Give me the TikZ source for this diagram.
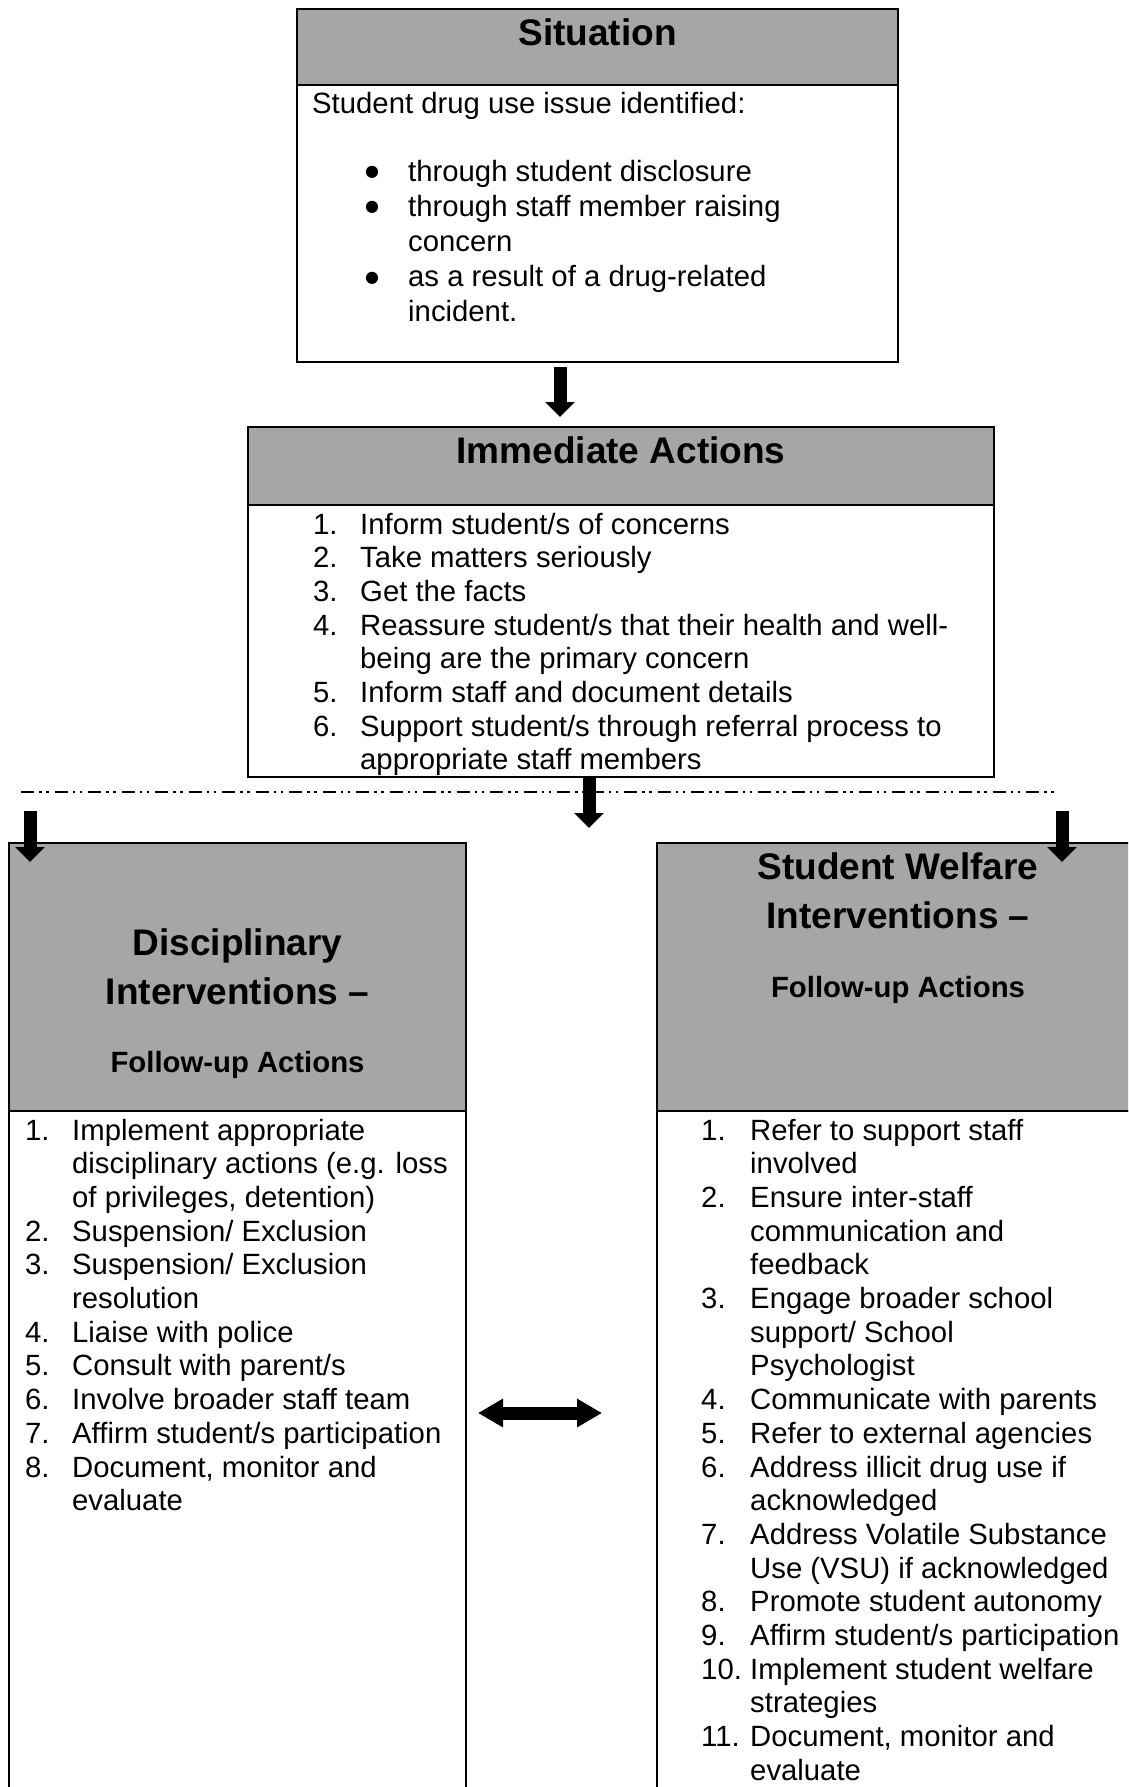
\documentclass[tikz,border=0pt]{standalone}
\usepackage{fontspec}
\setmainfont{Liberation Sans}
\newfontfamily\dejavufont{DejaVu Sans}
\usetikzlibrary{arrows.meta}
\definecolor{hdrgray}{HTML}{A6A6A6}
\begin{document}
\begin{tikzpicture}[x=1pt,y=-1pt,
  box/.style={draw=black, line width=1.8pt, inner sep=0pt, outer sep=0pt, anchor=north west},
  hdr/.style={box, fill=hdrgray},
  txt/.style={font=\fontsize{29.3}{33.7}\selectfont, anchor=base west, inner sep=0pt},
  bul/.style={font=\dejavufont\fontsize{16}{18}\selectfont, anchor=base west, inner sep=0pt},
  ttl/.style={font=\fontsize{37}{49}\selectfont\bfseries, anchor=base, inner sep=0pt},
  sub/.style={font=\fontsize{29.3}{33.7}\selectfont\bfseries, anchor=base, inner sep=0pt},
  blockarrow/.style={line width=13pt, -{Triangle[width=29pt,length=15pt]}},
  dblarrow/.style={line width=13pt, {Triangle[width=27pt,length=25pt]}-{Triangle[width=27pt,length=25pt]}},
  sepline/.style={line width=1.5pt, dash pattern=on 13pt off 5pt on 2.5pt off 4.5pt on 2.5pt off 6pt}
]
\clip (0,0) rectangle (1128,1787);
\fill[white] (0,0) rectangle (1128,1787);

% ---------- Situation ----------
\node[hdr, minimum width=601pt, minimum height=76pt] (sith) at (297,9) {};
\node[box, minimum width=601pt, minimum height=277pt] (sitb) at (297,85) {};
\node[ttl] (sitt) at (597.5,46) {Situation};
\node[txt] (s0) at (312,114) {Student drug use issue identified:};
\node[bul] (sb1) at (365,177) {●};
\node[txt] (s1) at (408,182) {through student disclosure};
\node[bul] (sb2) at (365,212) {●};
\node[txt] (s2) at (408,217) {through staff member raising};
\node[txt] (s3) at (408,251.5) {concern};
\node[bul] (sb3) at (365,282) {●};
\node[txt] (s4) at (408,287) {as a result of a drug-related};
\node[txt] (s5) at (408,321) {incident.};

% ---------- Immediate Actions ----------
\node[hdr, minimum width=746pt, minimum height=78pt] (imh) at (248,427) {};
\node[box, minimum width=746pt, minimum height=272pt] (imb) at (248,505) {};
\node[ttl] (imt) at (621,463) {Immediate Actions};
\node[txt] (in1) at (313,534) {1.};
\node[txt] (i1) at (360,534) {Inform student/s of concerns};
\node[txt] (in2) at (313,567.7) {2.};
\node[txt] (i2) at (360,567.7) {Take matters seriously};
\node[txt] (in3) at (313,601.4) {3.};
\node[txt] (i3) at (360,601.4) {Get the facts};
\node[txt] (in4) at (313,635.1) {4.};
\node[txt] (i4) at (360,635.1) {Reassure student/s that their health and well-};
\node[txt] (i4b) at (360,668.8) {being are the primary concern};
\node[txt] (in5) at (313,702.5) {5.};
\node[txt] (i5) at (360,702.5) {Inform staff and document details};
\node[txt] (in6) at (313,736.2) {6.};
\node[txt] (i6) at (360,736.2) {Support student/s through referral process to};
\node[txt] (i6b) at (360,769.9) {appropriate staff members};

% ---------- Disciplinary ----------
\node[hdr, minimum width=457pt, minimum height=268pt] (dch) at (9,843) {};
\node[box, minimum width=457pt, minimum height=700pt] (dcb) at (9,1111) {};
\node[ttl] (dt1) at (237.5,955) {Disciplinary};
\node[ttl] (dt2) at (237.5,1004) {Interventions --};
\node[sub] (dt3) at (237.5,1072) {Follow-up Actions};
\foreach \n/\t/\k in {1./Implement appropriate/0, /disciplinary actions (e.g. loss/1, /of privileges{,} detention)/2,
  2./Suspension\slash\ Exclusion/3, 3./Suspension\slash\ Exclusion/4, /resolution/5,
  4./Liaise with police/6, 5./Consult with parent\slash s/7, 6./Involve broader staff team/8,
  7./Affirm student\slash s participation/9, 8./{Document, monitor and}/10, /evaluate/11}{
  \node[txt] (dn\k) at (25,1140+33.7*\k) {\n};
  \node[txt] (d\k) at (72,1140+33.7*\k) {\t};
}

% ---------- Student Welfare ----------
\node[hdr, minimum width=490pt, minimum height=268pt] (swh) at (657,843) {};
\node[box, minimum width=490pt, minimum height=700pt] (swb) at (657,1111) {};
\node[ttl] (wt1) at (898,879) {Student Welfare};
\node[ttl] (wt2) at (898,928) {Interventions --};
\node[sub] (wt3) at (898,997) {Follow-up Actions};
\foreach \n/\t/\k in {1./Refer to support staff/0, /involved/1, 2./Ensure inter-staff/2,
  /communication and/3, /feedback/4, 3./Engage broader school/5, /support\slash\ School/6,
  /Psychologist/7, 4./Communicate with parents/8, 5./Refer to external agencies/9,
  6./Address illicit drug use if/10, /acknowledged/11, 7./Address Volatile Substance/12,
  /Use (VSU) if acknowledged/13, 8./Promote student autonomy/14, 9./Affirm student\slash s participation/15,
  10./Implement student welfare/16, /strategies/17, 11./{Document, monitor and}/18, /evaluate/19}{
  \node[txt] (wn\k) at (701,1140+33.7*\k) {\n};
  \node[txt] (w\k) at (750,1140+33.7*\k) {\t};
}

% ---------- separator and arrows ----------
\coordinate (sepL) at (21,792);
\coordinate (sepR) at (1055,792);
\draw[sepline] (sepL) -- (sepR);

\coordinate (a1s) at (560,367);
\coordinate (a1e) at (560,417);
\coordinate (a2s) at (589,777);
\coordinate (a2e) at (589,828);
\coordinate (a3s) at (30,811);
\coordinate (a3e) at (30,862);
\coordinate (a4s) at (1062,811);
\coordinate (a4e) at (1062,862);
\draw[blockarrow] (a1s) -- (a1e);
\draw[blockarrow] (a2s) -- (a2e);
\draw[blockarrow] (a3s) -- (a3e);
\draw[blockarrow] (a4s) -- (a4e);

\coordinate (dbl) at (478,1413);
\coordinate (dbr) at (602,1413);
\draw[dblarrow] (dbl) -- (dbr);
\end{tikzpicture}
\end{document}
